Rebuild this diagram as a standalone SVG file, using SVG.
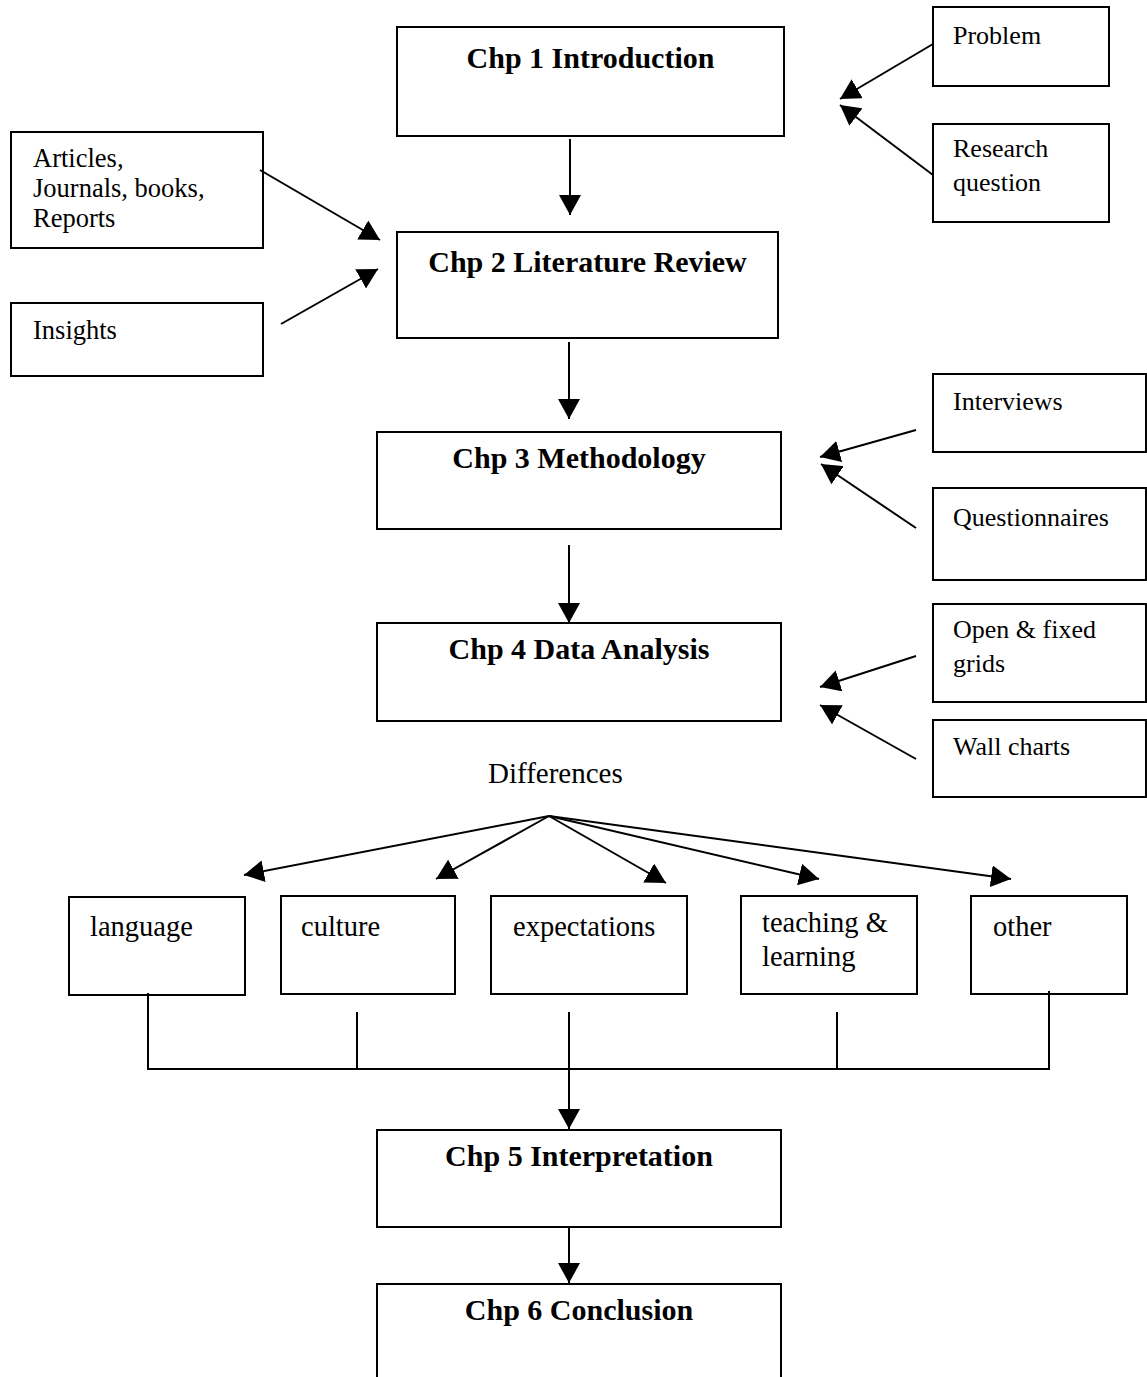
<svg xmlns="http://www.w3.org/2000/svg" width="1147" height="1377" viewBox="0 0 1147 1377">
  <style>
    .box { fill: #ffffff; stroke: #000000; stroke-width: 2; }
    .chp { font-family: "Liberation Serif", "Times New Roman", serif; font-weight: bold; font-size: 30px; fill: #000; text-anchor: middle; }
    .side { font-family: "Liberation Serif", "Times New Roman", serif; font-size: 26px; fill: #000; }
    .left { font-family: "Liberation Serif", "Times New Roman", serif; font-size: 26.5px; fill: #000; }
    .cat { font-family: "Liberation Serif", "Times New Roman", serif; font-size: 28.5px; fill: #000; }
    .wire { fill: none; stroke: #000000; stroke-width: 2; }
    .arrow { fill: none; stroke: #000000; stroke-width: 2; marker-end: url(#head); }
  </style>
  <defs>
    <marker id="head" viewBox="0 0 20 22" refX="20" refY="11" markerWidth="20" markerHeight="22" markerUnits="userSpaceOnUse" orient="auto">
      <path d="M0,0 L20,11 L0,22 Z" fill="#000000"/>
    </marker>
  </defs>
  <rect width="1147" height="1377" fill="#ffffff"/>

  <!-- chapter boxes -->
  <g id="chp1"><rect class="box" x="397" y="27" width="387" height="109"/><text class="chp" x="590.5" y="68">Chp 1 Introduction</text></g>
  <g id="chp2"><rect class="box" x="397" y="232" width="381" height="106"/><text class="chp" x="587.5" y="272">Chp 2 Literature Review</text></g>
  <g id="chp3"><rect class="box" x="377" y="432" width="404" height="97"/><text class="chp" x="579" y="468">Chp 3 Methodology</text></g>
  <g id="chp4"><rect class="box" x="377" y="623" width="404" height="98"/><text class="chp" x="579" y="659">Chp 4 Data Analysis</text></g>
  <g id="chp5"><rect class="box" x="377" y="1130" width="404" height="97"/><text class="chp" x="579" y="1166">Chp 5 Interpretation</text></g>
  <g id="chp6"><rect class="box" x="377" y="1284" width="404" height="130"/><text class="chp" x="579" y="1320">Chp 6 Conclusion</text></g>

  <!-- inputs on the right -->
  <g id="problem"><rect class="box" x="933" y="7" width="176" height="79"/><text class="side" x="953" y="44">Problem</text></g>
  <g id="research"><rect class="box" x="933" y="124" width="176" height="98"/><text class="side" x="953" y="157">Research</text><text class="side" x="953" y="191">question</text></g>
  <g id="interviews"><rect class="box" x="933" y="374" width="213" height="78"/><text class="side" x="953" y="410">Interviews</text></g>
  <g id="questionnaires"><rect class="box" x="933" y="488" width="213" height="92"/><text class="side" x="953" y="526">Questionnaires</text></g>
  <g id="grids"><rect class="box" x="933" y="604" width="213" height="98"/><text class="side" x="953" y="638">Open &amp; fixed</text><text class="side" x="953" y="672">grids</text></g>
  <g id="wallcharts"><rect class="box" x="933" y="720" width="213" height="77"/><text class="side" x="953" y="755">Wall charts</text></g>

  <!-- inputs on the left -->
  <g id="sources"><rect class="box" x="11" y="132" width="252" height="116"/><text class="left" x="33" y="167">Articles,</text><text class="left" x="33" y="197">Journals, books,</text><text class="left" x="33" y="227">Reports</text></g>
  <g id="insights"><rect class="box" x="11" y="303" width="252" height="73"/><text class="left" x="33" y="339">Insights</text></g>

  <!-- differences -->
  <g id="differences"><text class="cat" x="488" y="783" style="font-size:29px">Differences</text></g>
  <g id="language"><rect class="box" x="69" y="897" width="176" height="98"/><text class="cat" x="90" y="936">language</text></g>
  <g id="culture"><rect class="box" x="281" y="896" width="174" height="98"/><text class="cat" x="301" y="936">culture</text></g>
  <g id="expectations"><rect class="box" x="491" y="896" width="196" height="98"/><text class="cat" x="513" y="936">expectations</text></g>
  <g id="teaching"><rect class="box" x="741" y="896" width="176" height="98"/><text class="cat" x="762" y="932">teaching &amp;</text><text class="cat" x="762" y="966">learning</text></g>
  <g id="other"><rect class="box" x="971" y="896" width="156" height="98"/><text class="cat" x="993" y="936">other</text></g>

  <!-- connectors -->
  <g id="connectors">
    <line class="arrow" x1="570" y1="139" x2="570" y2="215"/>
    <line class="arrow" x1="569" y1="342" x2="569" y2="419"/>
    <line class="arrow" x1="569" y1="545" x2="569" y2="623"/>
    <line class="arrow" x1="569" y1="1012" x2="569" y2="1129"/>
    <line class="arrow" x1="569" y1="1227" x2="569" y2="1283"/>

    <line class="arrow" x1="933" y1="44" x2="840" y2="99"/>
    <line class="arrow" x1="933" y1="175" x2="840" y2="105"/>
    <line class="arrow" x1="260" y1="170" x2="380" y2="240"/>
    <line class="arrow" x1="281" y1="324" x2="378" y2="269"/>
    <line class="arrow" x1="916" y1="430" x2="820" y2="457"/>
    <line class="arrow" x1="916" y1="528" x2="821" y2="464"/>
    <line class="arrow" x1="916" y1="656" x2="820" y2="687"/>
    <line class="arrow" x1="916" y1="759" x2="820" y2="705"/>

    <line class="arrow" x1="549" y1="816" x2="244" y2="875"/>
    <line class="arrow" x1="549" y1="816" x2="436" y2="879"/>
    <line class="arrow" x1="549" y1="816" x2="666" y2="883"/>
    <line class="arrow" x1="549" y1="816" x2="819" y2="879"/>
    <line class="arrow" x1="549" y1="816" x2="1011" y2="879"/>

    <path class="wire" d="M148,993 V1069 M357,1012 V1069 M837,1012 V1069 M1049,991 V1069 M147,1069 H1050"/>
  </g>
</svg>
